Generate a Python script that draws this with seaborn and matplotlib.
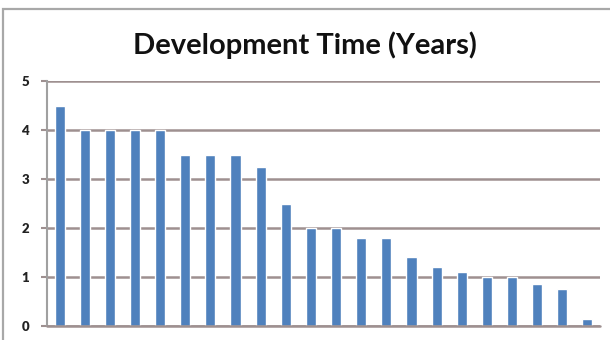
import matplotlib
matplotlib.use("Agg")
import matplotlib.pyplot as plt
from matplotlib.patches import Rectangle
import seaborn as sns
import pandas as pd

# Development time of each project, sorted longest to shortest
projects = [f"P{i}" for i in range(1, 23)]
years = [4.5, 4.0, 4.0, 4.0, 4.0, 3.5, 3.5, 3.5, 3.25, 2.5, 2.0,
         2.0, 1.8, 1.8, 1.4, 1.2, 1.1, 1.0, 1.0, 0.85, 0.75, 0.15]
y_ticks = [0, 1, 2, 3, 4, 5]
title = "Development Time (Years)"

df = pd.DataFrame({"project": projects, "years": years})

sns.set_theme(style="ticks")
plt.rcParams["font.family"] = ["Lato", "DejaVu Sans"]

W, H = 610, 340
fig = plt.figure(figsize=(W / 100, H / 100), dpi=100)
fig.patch.set_facecolor("white")

# outer chart frame
fig.add_artist(Rectangle((3 / W, -0.1), 1.2, (H - 9) / H + 0.1,
                         transform=fig.transFigure, fill=False,
                         edgecolor="#a8a8a8", linewidth=1.6))

ax = fig.add_axes([47 / W, 14 / H, (600 - 47) / W, (326 - 81) / H])
sns.barplot(data=df, x="project", y="years", color="#4f81bd",
            saturation=1, width=0.4, ax=ax)

grid_c = "#9e9090"
ax.set_ylim(0, 5)
ax.set_xlim(-0.5, len(projects) - 0.5)
ax.set_yticks(y_ticks)
ax.set_yticklabels([str(t) for t in y_ticks], fontsize=9.5, fontweight="heavy",
                   color="#222222")
ax.set_xticks([])
ax.set_xlabel("")
ax.set_ylabel("")
ax.yaxis.grid(True, color=grid_c, linewidth=1.8)
ax.set_axisbelow(True)
ax.tick_params(axis="y", which="major", left=True, direction="out",
               length=4, width=1.5, color=grid_c, pad=9)
for side in ["right", "bottom", "top"]:
    ax.spines[side].set_visible(False)
ax.spines["left"].set_color("#a0a0a0")
ax.spines["left"].set_linewidth(1.5)
ax.axhline(0, color=grid_c, linewidth=1.8, zorder=3, clip_on=False)

fig.text(0.5, 1 - 45 / H, title, ha="center", va="center",
         fontsize=21, fontweight="bold", color="#111111")

fig.savefig("out.png", dpi=100)
